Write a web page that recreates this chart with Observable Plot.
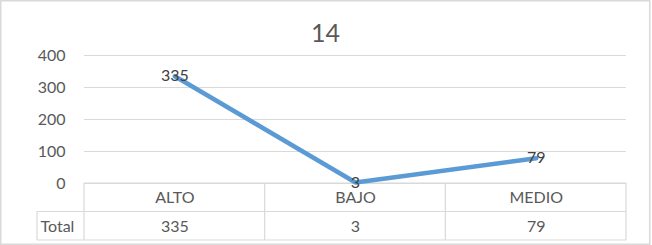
<!DOCTYPE html>
<html>
<head>
<meta charset="utf-8">
<script src="https://cdn.jsdelivr.net/npm/d3@7"></script>
<script src="https://cdn.jsdelivr.net/npm/@observablehq/plot@0.6"></script>
<style>
  html, body { margin: 0; padding: 0; background: #fff; }
  #chart { width: 652px; height: 245px; }
</style>
</head>
<body>
<div id="chart"></div>
<script>
const title = "14";
const categories = ["ALTO", "BAJO", "MEDIO"];
const values = [335, 3, 79];
const yTicks = [0, 100, 200, 300, 400];
const rowLabel = "Total";

const FONT = "Lato, 'Open Sans', sans-serif";
const GRID = "#d9d9d9";
const idx = (d, i) => i + 0.5;

// table borders + outer border, drawn from the x scale
const tableMark = (index, scales, values_, dimensions) => {
  const x = scales.x;
  const {width, height, marginTop, marginBottom, marginLeft, marginRight} = dimensions;
  const g = d3.create("svg:g").attr("fill", "none").attr("stroke", GRID).attr("stroke-width", 1.2);
  const top = height - marginBottom;      // y of value 0
  const rowH = 28.5;
  const left = x(0), right = x(categories.length);
  const labelLeft = left - 47;
  // outer border
  g.append("rect").attr("x", 0.75).attr("y", 0.75).attr("width", width - 3).attr("height", height - 1.5).attr("stroke-width", 1.5);
  // header row
  g.append("line").attr("x1", left).attr("x2", right).attr("y1", top).attr("y2", top);
  // total row top and bottom
  g.append("line").attr("x1", labelLeft).attr("x2", right).attr("y1", top + rowH).attr("y2", top + rowH);
  g.append("line").attr("x1", labelLeft).attr("x2", right).attr("y1", top + 2 * rowH).attr("y2", top + 2 * rowH);
  g.append("line").attr("x1", labelLeft).attr("x2", labelLeft).attr("y1", top + rowH).attr("y2", top + 2 * rowH);
  for (let i = 0; i <= categories.length; i++) {
    g.append("line").attr("x1", x(i)).attr("x2", x(i)).attr("y1", top).attr("y2", top + 2 * rowH);
  }
  return g.node();
};

const chart = Plot.plot({
  width: 652,
  height: 245,
  marginLeft: 84,
  marginRight: 26,
  marginTop: 55,
  marginBottom: 62,
  style: {fontFamily: FONT, fontSize: "16px", color: "#595959", background: "#fff"},
  x: {type: "linear", domain: [0, categories.length], axis: null},
  y: {domain: [0, 400], ticks: yTicks, tickSize: 0, tickPadding: 19, label: null},
  marks: [
    Plot.ruleY(yTicks, {stroke: GRID, strokeWidth: 1.2}),
    tableMark,
    Plot.line(values, {x: idx, y: d => d, stroke: "#5B9BD5", strokeWidth: 4.5, strokeLinecap: "round", strokeLinejoin: "round"}),
    Plot.text(values, {x: idx, y: d => d, text: d => String(d), fill: "#404040", fontSize: 16, lineAnchor: "middle"}),
    // title
    Plot.text([title], {frameAnchor: "top-left", dx: 241, dy: -22, text: d => d, fontSize: 25, fill: "#595959", textAnchor: "middle", lineAnchor: "middle"}),
    // data table
    Plot.text(categories, {x: idx, frameAnchor: "bottom", dy: 14.5, text: d => d, fontSize: 16, fill: "#595959", lineAnchor: "middle"}),
    Plot.text(values, {x: idx, frameAnchor: "bottom", dy: 43, text: d => String(d), fontSize: 16, fill: "#595959", lineAnchor: "middle"}),
    Plot.text([rowLabel], {frameAnchor: "bottom-left", dx: -44, dy: 43, text: d => d, fontSize: 16, fill: "#595959", textAnchor: "start", lineAnchor: "middle"})
  ]
});
document.getElementById("chart").appendChild(chart);
</script>
</body>
</html>
